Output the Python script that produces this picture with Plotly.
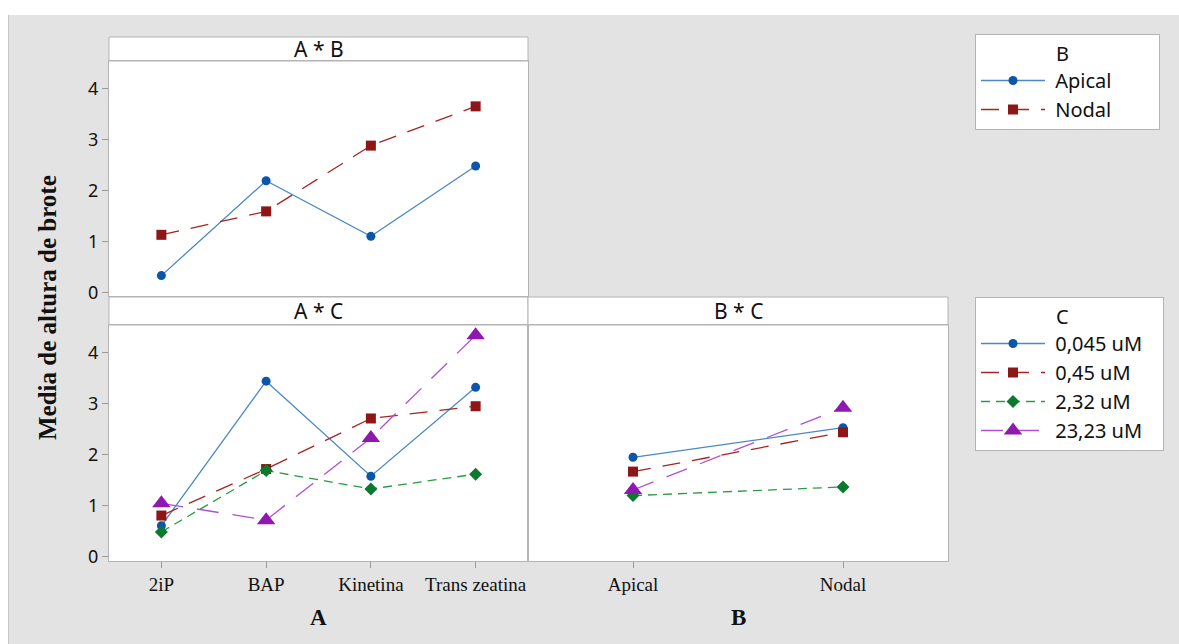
import plotly.graph_objects as go

# ---------------- data ----------------
A_cats = ["2iP", "BAP", "Kinetina", "Trans zeatina"]
B_cats = ["Apical", "Nodal"]
C_levels = ["0,045 uM", "0,45 uM", "2,32 uM", "23,23 uM"]

ab_apical = [0.33, 2.19, 1.10, 2.48]
ab_nodal = [1.13, 1.59, 2.88, 3.65]

ac_0045 = [0.61, 3.44, 1.58, 3.32]
ac_045 = [0.81, 1.72, 2.71, 2.95]
ac_232 = [0.49, 1.69, 1.33, 1.62]
ac_2323 = [1.05, 0.72, 2.33, 4.34]

bc_0045 = [1.95, 2.53]
bc_045 = [1.67, 2.44]
bc_232 = [1.20, 1.37]
bc_2323 = [1.31, 2.92]

y_ticks = [0, 1, 2, 3, 4]

# ---------------- layout helpers ----------------
W, H = 1179, 644


def px(x):
    return x / W


def py(y):
    return 1 - y / H


styles = [
    dict(mcolor="#0b56a8", lcolor="#4a88c8", symbol="circle", size=9, dash="solid"),
    dict(mcolor="#8e1616", lcolor="#a52424", symbol="square", size=10, dash="18px,12px"),
    dict(mcolor="#0b7a2e", lcolor="#2a9a45", symbol="diamond", size=10, dash="9px,6px"),
    dict(mcolor="#8e18b0", lcolor="#b050d0", symbol="triangle-up", size=16, dash="22px,14px"),
]

SANS = "Noto Sans, Open Sans, sans-serif"
SERIF = "Liberation Serif, Times New Roman, serif"
TICKFONT = dict(family=SANS, size=18, color="#111")
XTICKFONT = dict(family=SERIF, size=19, color="#111")
LEGFONT = dict(family=SANS, size=20, color="#111")
BORDER = "#b4b4b4"
NB = "\u00a0"

fig = go.Figure()


def add(x, y, st, name, xa, ya, legend, show):
    fig.add_trace(go.Scatter(
        x=x, y=y, name=name, mode="lines+markers",
        xaxis=xa, yaxis=ya, legend=legend, showlegend=show,
        line=dict(color=st["lcolor"], width=1.3, dash=st["dash"]),
        marker=dict(color=st["mcolor"], symbol=st["symbol"], size=st["size"],
                    line=dict(width=0)),
    ))


# A * B
add(A_cats, ab_apical, styles[0], NB + B_cats[0] + NB * 8, "x", "y", "legend", True)
add(A_cats, ab_nodal, styles[1], NB + B_cats[1], "x", "y", "legend", True)

# A * C
for vals, st, nm in zip([ac_0045, ac_045, ac_232, ac_2323], styles, C_levels):
    add(A_cats, vals, st, NB + nm + NB * 3, "x2", "y2", "legend2", True)

# B * C
for vals, st, nm in zip([bc_0045, bc_045, bc_232, bc_2323], styles, C_levels):
    add(B_cats, vals, st, nm, "x3", "y3", "legend2", False)

common_x = dict(type="category", showgrid=False, zeroline=False, showline=True,
                mirror=True, linecolor=BORDER, linewidth=1, automargin=False)
common_y = dict(showgrid=False, zeroline=False, showline=True, mirror=True,
                linecolor=BORDER, linewidth=1, tickvals=y_ticks, automargin=False)

fig.update_layout(
    width=W, height=H,
    margin=dict(l=0, r=0, t=0, b=0, pad=0, autoexpand=False),
    paper_bgcolor="#e3e3e3",
    plot_bgcolor="white",
    xaxis=dict(common_x, domain=[px(109), px(528)], anchor="y",
               categoryorder="array", categoryarray=A_cats,
               range=[-0.5, 3.5], showticklabels=False, ticks=""),
    yaxis=dict(common_y, domain=[py(296), py(61)], anchor="x",
               range=[-0.07, 4.54], ticks="outside", ticklen=6,
               tickcolor="#9a9a9a", tickfont=TICKFONT),
    xaxis2=dict(common_x, domain=[px(109), px(528)], anchor="y2",
                categoryorder="array", categoryarray=A_cats,
                range=[-0.5, 3.5], ticks="outside", ticklen=6,
                tickcolor="#9a9a9a", tickfont=XTICKFONT),
    yaxis2=dict(common_y, domain=[py(561), py(325)], anchor="x2",
                range=[-0.08, 4.54], ticks="outside", ticklen=6,
                tickcolor="#9a9a9a", tickfont=TICKFONT),
    xaxis3=dict(common_x, domain=[px(528), px(948)], anchor="y3",
                categoryorder="array", categoryarray=B_cats,
                range=[-0.5, 1.5], ticks="outside", ticklen=6,
                tickcolor="#9a9a9a", tickfont=XTICKFONT),
    yaxis3=dict(common_y, domain=[py(561), py(325)], anchor="x3",
                range=[-0.08, 4.54], showticklabels=False, ticks=""),
    legend=dict(
        x=px(975), y=py(34), xanchor="left", yanchor="top",
        bgcolor="white", bordercolor=BORDER, borderwidth=1,
        font=LEGFONT,
        title=dict(text=NB * 15 + "B", font=LEGFONT),
        itemwidth=64, tracegroupgap=0,
    ),
    legend2=dict(
        x=px(975), y=py(297), xanchor="left", yanchor="top",
        bgcolor="white", bordercolor=BORDER, borderwidth=1,
        font=LEGFONT,
        title=dict(text=NB * 15 + "C", font=LEGFONT),
        itemwidth=64, tracegroupgap=0,
    ),
)

shapes = [
    # white outer strips and thin left edge line
    dict(type="rect", xref="paper", yref="paper", x0=0, x1=1, y0=py(15), y1=1,
         fillcolor="white", line=dict(width=0), layer="below"),
    dict(type="rect", xref="paper", yref="paper", x0=0, x1=px(8), y0=0, y1=1,
         fillcolor="white", line=dict(width=0), layer="below"),
    dict(type="line", xref="paper", yref="paper", x0=px(8.5), x1=px(8.5), y0=0, y1=py(15),
         line=dict(color="#c6c6c6", width=1), layer="below"),
    # panel headers
    dict(type="rect", xref="paper", yref="paper", x0=px(109), x1=px(528), y0=py(61), y1=py(37),
         fillcolor="white", line=dict(color=BORDER, width=1), layer="below"),
    dict(type="rect", xref="paper", yref="paper", x0=px(109), x1=px(528), y0=py(325), y1=py(297),
         fillcolor="white", line=dict(color=BORDER, width=1), layer="below"),
    dict(type="rect", xref="paper", yref="paper", x0=px(528), x1=px(948), y0=py(325), y1=py(297),
         fillcolor="white", line=dict(color=BORDER, width=1), layer="below"),
]
fig.update_layout(shapes=shapes)

HEADFONT = dict(family=SANS, size=21, color="#111")
ann = [
    dict(text="A * B", x=px(318.5), y=py(49), font=HEADFONT),
    dict(text="A * C", x=px(318.5), y=py(311), font=HEADFONT),
    dict(text="B * C", x=px(738), y=py(311), font=HEADFONT),
    dict(text="<b>A</b>", x=px(318), y=py(617), font=dict(family=SERIF, size=23, color="#111")),
    dict(text="<b>B</b>", x=px(738), y=py(617), font=dict(family=SERIF, size=23, color="#111")),
    dict(text="<b>Media de altura de brote</b>", x=px(47), y=py(308), textangle=-90,
         font=dict(family=SERIF, size=25, color="#111")),
]
for a in ann:
    a.update(xref="paper", yref="paper", showarrow=False, xanchor="center", yanchor="middle")
fig.update_layout(annotations=ann)

fig.write_html(
    "out.html",
    config={"displayModeBar": False},
    post_script="document.body.style.margin='0';document.body.style.overflow='hidden';",
)
